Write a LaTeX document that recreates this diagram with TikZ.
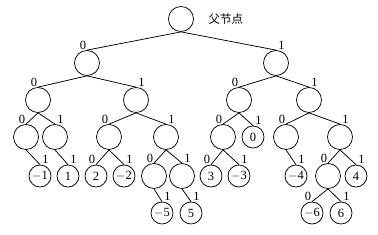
\documentclass[tikz,border=0pt]{standalone}
\usepackage{fontspec}
\setmainfont{Liberation Serif}
\newfontfamily\cjk{Noto Sans CJK SC}
\begin{document}
\begin{tikzpicture}[x=1pt,y=-1pt,line width=0.75pt,
  every node/.style={font=\fontsize{12.5}{13}\selectfont},
  emptynode/.style={draw,circle,minimum size=25pt,inner sep=0pt},
  numnode/.style={draw,circle,minimum size=22pt,inner sep=0pt},
  zl/.style={at end,anchor=south east,inner sep=0.5pt},
  ol/.style={at end,anchor=south west,inner sep=0.5pt,xshift=1.5pt}]
\useasboundingbox (0,0) rectangle (378,235);
% nodes
\node[emptynode] (R) at (181,19) {};
\node[anchor=west,font=\cjk\fontsize{11.5}{12}\selectfont] (lab) at (205,19) {父节点};
\node[emptynode] (L) at (87,63) {};
\node[emptynode] (Rt) at (276,63) {};
\node[emptynode] (LL) at (38,100) {};
\node[emptynode] (LR) at (136,100) {};
\node[emptynode] (RL) at (239,100) {};
\node[emptynode] (RR) at (309,100) {};
\node[emptynode] (LLL) at (26,137) {};
\node[emptynode] (LLR) at (55,137) {};
\node[emptynode] (LRL) at (109,137) {};
\node[emptynode] (LRR) at (166,137) {};
\node[emptynode] (RLL) at (223,137) {};
\node[numnode] (RLR) at (253,137) {0};
\node[emptynode] (RRL) at (286,137) {};
\node[emptynode] (RRR) at (340,137) {};
\node[numnode] (a1) at (40,176) {$-$1};
\node[numnode] (a2) at (68,176) {1};
\node[numnode] (a3) at (96,176) {2};
\node[numnode] (a4) at (124,176) {$-$2};
\node[emptynode] (a5) at (154,176) {};
\node[emptynode] (a6) at (182,176) {};
\node[numnode] (a7) at (211,176) {3};
\node[numnode] (a8) at (239,176) {$-$3};
\node[numnode] (a9) at (296,176) {$-$4};
\node[emptynode] (a10) at (328,176) {};
\node[numnode] (a11) at (356,176) {4};
\node[numnode] (b1) at (162,213) {$-$5};
\node[numnode] (b2) at (191,213) {5};
\node[numnode] (b3) at (312,213) {$-$6};
\node[numnode] (b4) at (341,213) {6};
% edges
\draw (R.south) -- (L.north) node[zl] {0};
\draw (R.south) -- (Rt.north) node[ol] {1};
\draw (L.south) -- (LL.north) node[zl] {0};
\draw (L.south) -- (LR.north) node[ol] {1};
\draw (Rt.south) -- (RL.north) node[zl] {0};
\draw (Rt.south) -- (RR.north) node[ol] {1};
\draw (LL.south) -- (LLL.north) node[zl] {0};
\draw (LL.south) -- (LLR.north) node[ol] {1};
\draw (LR.south) -- (LRL.north) node[zl] {0};
\draw (LR.south) -- (LRR.north) node[ol] {1};
\draw (RL.south) -- (RLL.north) node[zl] {0};
\draw (RL.south) -- (RLR.north) node[ol] {1};
\draw (RR.south) -- (RRL.north) node[zl] {0};
\draw (RR.south) -- (RRR.north) node[ol] {1};
\draw (LLL.south) -- (a1.north) node[ol] {1};
\draw (LLR.south) -- (a2.north) node[ol] {1};
\draw (LRL.south) -- (a3.north) node[zl] {0};
\draw (LRL.south) -- (a4.north) node[ol] {1};
\draw (LRR.south) -- (a5.north) node[zl] {0};
\draw (LRR.south) -- (a6.north) node[ol] {1};
\draw (RLL.south) -- (a7.north) node[zl] {0};
\draw (RLL.south) -- (a8.north) node[ol] {1};
\draw (RRL.south) -- (a9.north) node[ol] {1};
\draw (RRR.south) -- (a10.north) node[zl] {0};
\draw (RRR.south) -- (a11.north) node[ol] {1};
\draw (a5.south) -- (b1.north) node[ol] {1};
\draw (a6.south) -- (b2.north) node[ol] {1};
\draw (a10.south) -- (b3.north) node[zl] {0};
\draw (a10.south) -- (b4.north) node[ol] {1};
\end{tikzpicture}
\end{document}
